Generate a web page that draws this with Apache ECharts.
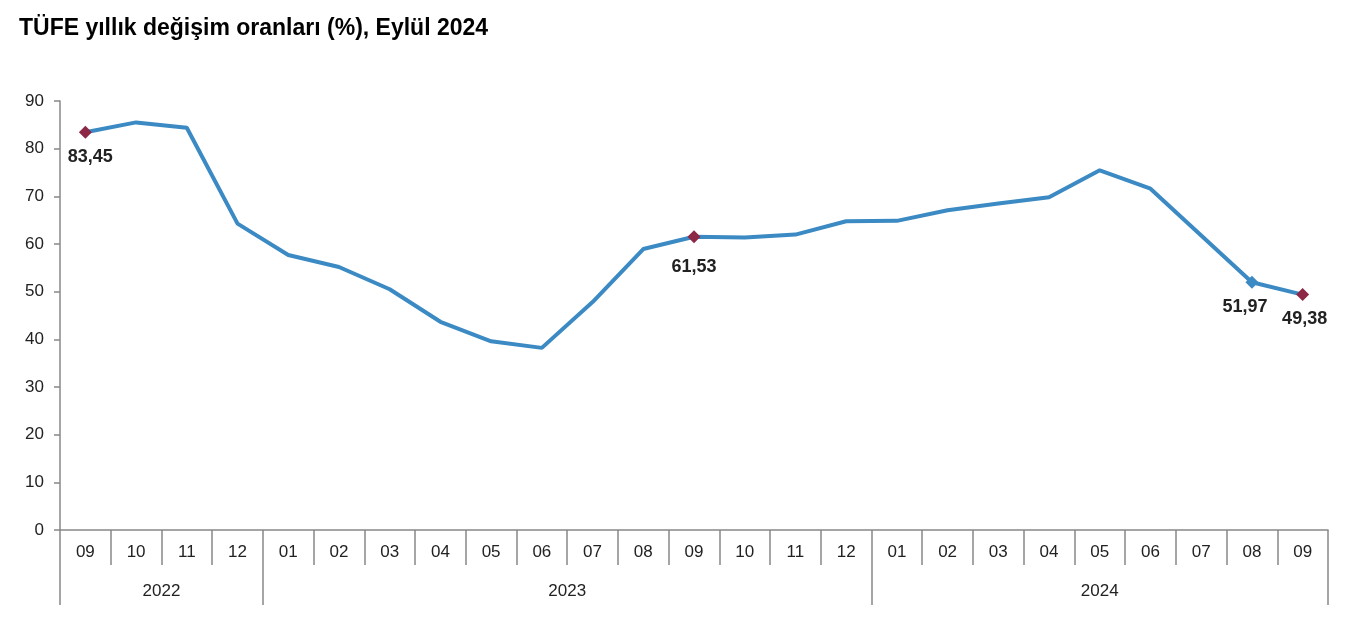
<!DOCTYPE html>
<html><head><meta charset="utf-8">
<script src="https://cdn.jsdelivr.net/npm/echarts@6/dist/echarts.min.js"></script>
<style>html,body{margin:0;padding:0;background:#fff}#c{width:1362px;height:632px}</style>
</head><body><div id="c"></div>
<script>
const months = ['09','10','11','12','01','02','03','04','05','06','07','08','09','10','11','12','01','02','03','04','05','06','07','08','09'];
const values = [83.45,85.51,84.39,64.27,57.68,55.18,50.51,43.68,39.59,38.21,47.83,58.94,61.53,61.36,61.98,64.77,64.86,67.07,68.50,69.80,75.45,71.60,61.78,51.97,49.38];
const years = ['2022','2023','2024'];
const yearSpans = [4,12,9];
const redMarks = [0,12,24];
const blueMarks = [23];
const yTicks = [0,10,20,30,40,50,60,70,80,90];

// year axis: half-month boundary slots
const totalSlots = months.length*2 + 1;
const yearSlots = new Array(totalSlots).fill('');
const yearTickIdx = [0];
const yearLabelIdx = [];
let acc = 0;
years.forEach((y,i)=>{
  const mid = acc*2 + yearSpans[i];
  yearSlots[mid] = y; yearLabelIdx.push(mid);
  acc += yearSpans[i];
  yearTickIdx.push(acc*2);
});

const FONT = 'Liberation Sans, Arial';
const labelOffsets = {0:[5,0],12:[0,6],23:[-7,0],24:[2,0]};
const data = values.map((v,i)=>{
  const o = {value:v};
  const isRed = redMarks.includes(i), isBlue = blueMarks.includes(i);
  if (isRed || isBlue) {
    o.symbol='diamond'; o.symbolSize=13;
    o.itemStyle={color: isRed ? '#8c2846' : '#3b8ac4'};
    o.label={show:true, position:'bottom', distance:9, offset:labelOffsets[i]||[0,0],
      formatter: p=>p.value.toFixed(2).replace('.',','),
      fontFamily:FONT, fontWeight:'bold', fontSize:18, color:'#222'};
  } else {
    o.symbol='none';
  }
  return o;
});

const chart = echarts.init(document.getElementById('c'));
chart.setOption({
  animation:false,
  title:{text:'TÜFE yıllık değişim oranları (%), Eylül 2024', left:14, top:12,
    textStyle:{fontFamily:FONT, fontWeight:'bold', fontSize:23, color:'#000'}},
  grid:{left:60, right:34, top:101, bottom:102, containLabel:false},
  xAxis:[{
    type:'category', data:months, boundaryGap:true, position:'bottom',
    axisLine:{lineStyle:{color:'#888', width:1.5}},
    axisTick:{show:true, interval:0, length:35, lineStyle:{color:'#888', width:1.5}},
    axisLabel:{interval:0, margin:14, fontFamily:FONT, fontSize:17, color:'#222'}
  },{
    type:'category', data:yearSlots, boundaryGap:false, position:'bottom', offset:0,
    axisLine:{show:false},
    axisTick:{show:true, interval:(i)=>yearTickIdx.includes(i), length:75, lineStyle:{color:'#888', width:1.5}},
    axisLabel:{interval:(i)=>yearLabelIdx.includes(i), margin:53, fontFamily:FONT, fontSize:17, color:'#222'}
  }],
  yAxis:{type:'value', min:0, max:90, interval:10,
    axisLine:{show:true, lineStyle:{color:'#888', width:1.5}},
    axisTick:{show:true, length:6, lineStyle:{color:'#888', width:1.5}},
    splitLine:{show:false},
    axisLabel:{margin:16, fontFamily:FONT, fontSize:17, color:'#222',
      formatter:v=>yTicks.includes(v)?String(v):''}
  },
  series:[{type:'line', xAxisIndex:0, data:data, lineStyle:{color:'#3b8ac4', width:4},
    itemStyle:{color:'#3b8ac4'}, z:3}]
});
</script></body></html>
